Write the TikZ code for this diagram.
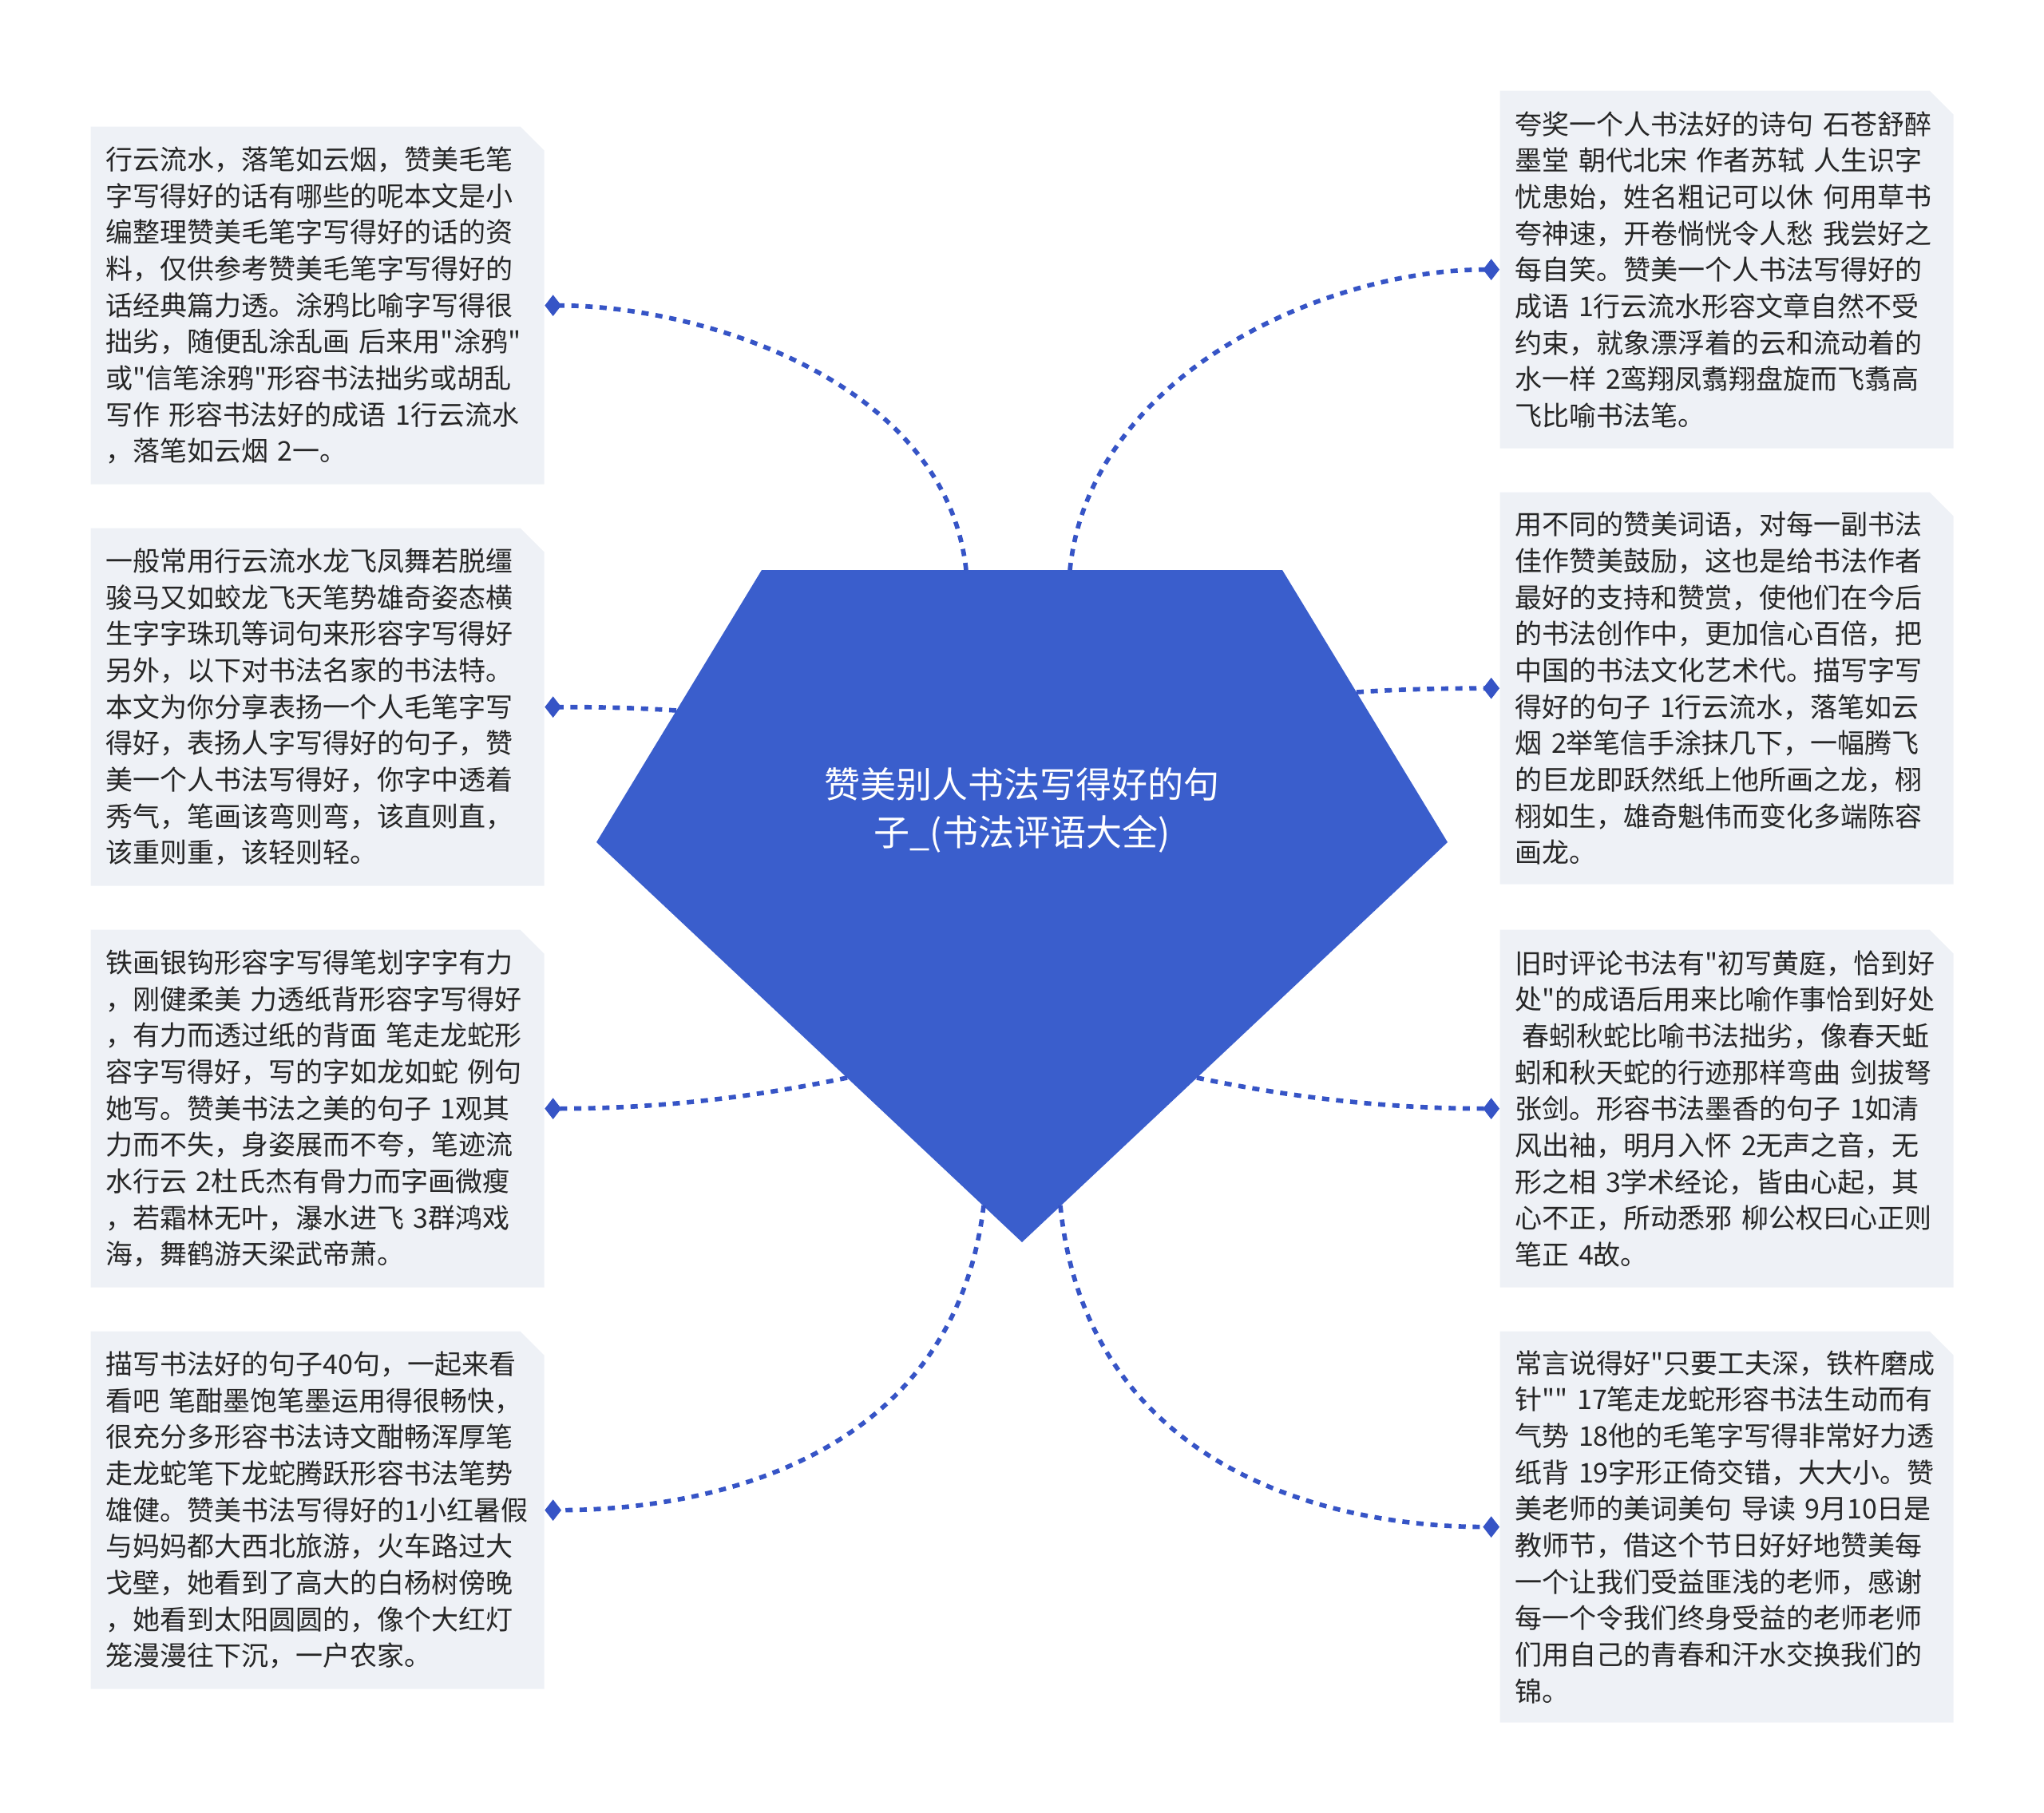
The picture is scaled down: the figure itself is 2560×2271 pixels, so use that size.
\documentclass[tikz,border=0pt]{standalone}
\usepackage{fontspec}
\setmainfont{Noto Sans CJK SC}[Ligatures=TeXOff]
\usetikzlibrary{shapes.misc,arrows.meta}
\definecolor{hubblue}{HTML}{3A5ECC}
\definecolor{linkblue}{HTML}{3654C6}
\definecolor{leaffill}{HTML}{EEF1F6}
\definecolor{leaftext}{HTML}{262626}

\begin{document}
\begin{tikzpicture}[
    x=0.3pt, y=-0.3pt,
    leaf/.style={chamfered rectangle, chamfered rectangle corners=north east,
        chamfered rectangle xsep=4.5pt, chamfered rectangle ysep=4.5pt,
        fill=leaffill, text=leaftext, font=\fontsize{10.2pt}{13.7pt}\selectfont,
        text width=159pt, align=left, inner xsep=1.2pt, inner ysep=0pt,
        minimum height=134.4pt, anchor=north west},
    hubtext/.style={text=white, align=center, font=\fontsize{13.5pt}{18pt}\selectfont},
    link/.style={linkblue, line width=1.7pt, dash pattern=on 2.7pt off 2.6pt,
        -{Diamond[length=6.2pt,width=8pt]}}
]
\useasboundingbox (0,0) rectangle (2560,2271);

% Hub
\coordinate (hubNW) at (954,714);
\coordinate (hubNE) at (1606,714);
\coordinate (hubE) at (1813,1055);
\coordinate (hubS) at (1280,1556);
\coordinate (hubW) at (747,1055);
\fill[hubblue] (hubNW) -- (hubNE) -- (hubE) -- (hubS) -- (hubW) -- cycle;
\node[hubtext] (hub) at (1280,1015) {赞美别人书法写得好的句\\子\_(书法评语大全)};

% Left leaves
\node[leaf] (l1) at (113,158) {行云流水，落笔如云烟，赞美毛笔\\字写得好的话有哪些的呢本文是小\\编整理赞美毛笔字写得好的话的资\\料，仅供参考赞美毛笔字写得好的\\话经典篇力透。涂鸦比喻字写得很\\拙劣，随便乱涂乱画~后来用"涂鸦"\\或"信笔涂鸦"形容书法拙劣或胡乱\\写作~形容书法好的成语~1行云流水\\，落笔如云烟~2一。};
\node[leaf] (l2) at (113,661) {一般常用行云流水龙飞凤舞若脱缰\\骏马又如蛟龙飞天笔势雄奇姿态横\\生字字珠玑等词句来形容字写得好\\另外，以下对书法名家的书法特。\\本文为你分享表扬一个人毛笔字写\\得好，表扬人字写得好的句子，赞\\美一个人书法写得好，你字中透着\\秀气，笔画该弯则弯，该直则直，\\该重则重，该轻则轻。};
\node[leaf] (l3) at (113,1164) {铁画银钩形容字写得笔划字字有力\\，刚健柔美~力透纸背形容字写得好\\，有力而透过纸的背面~笔走龙蛇形\\容字写得好，写的字如龙如蛇~例句\\她写。赞美书法之美的句子~1观其\\力而不失，身姿展而不夸，笔迹流\\水行云~2杜氏杰有骨力而字画微瘦\\，若霜林无叶，瀑水进飞~3群鸿戏\\海，舞鹤游天梁武帝萧。};
\node[leaf] (l4) at (113,1667) {描写书法好的句子40句，一起来看\\看吧~笔酣墨饱笔墨运用得很畅快，\\很充分多形容书法诗文酣畅浑厚笔\\走龙蛇笔下龙蛇腾跃形容书法笔势\\雄健。赞美书法写得好的1小红暑假\\与妈妈都大西北旅游，火车路过大\\戈壁，她看到了高大的白杨树傍晚\\，她看到太阳圆圆的，像个大红灯\\笼漫漫往下沉，一户农家。};

% Right leaves
\node[leaf] (r1) at (1878,113) {夸奖一个人书法好的诗句~石苍舒醉\\墨堂~朝代北宋~作者苏轼~人生识字\\忧患始，姓名粗记可以休~何用草书\\夸神速，开卷惝恍令人愁~我尝好之\\每自笑。赞美一个人书法写得好的\\成语~1行云流水形容文章自然不受\\约束，就象漂浮着的云和流动着的\\水一样~2鸾翔凤翥翔盘旋而飞翥高\\飞比喻书法笔。};
\node[leaf, minimum height=147.3pt] (r2) at (1878,616) {用不同的赞美词语，对每一副书法\\佳作赞美鼓励，这也是给书法作者\\最好的支持和赞赏，使他们在今后\\的书法创作中，更加信心百倍，把\\中国的书法文化艺术代。描写字写\\得好的句子~1行云流水，落笔如云\\烟~2举笔信手涂抹几下，一幅腾飞\\的巨龙即跃然纸上他所画之龙，栩\\栩如生，雄奇魁伟而变化多端陈容\\画龙。};
\node[leaf] (r3) at (1878,1164) {旧时评论书法有"初写黄庭，恰到好\\处"的成语后用来比喻作事恰到好处\\\hspace*{.25em}春蚓秋蛇比喻书法拙劣，像春天蚯\\蚓和秋天蛇的行迹那样弯曲~剑拔弩\\张剑。形容书法墨香的句子~1如清\\风出袖，明月入怀~2无声之音，无\\形之相~3学术经论，皆由心起，其\\心不正，所动悉邪~柳公权曰心正则\\笔正~4故。};
\node[leaf, minimum height=147pt] (r4) at (1878,1667) {常言说得好"只要工夫深，铁杵磨成\\针""~17笔走龙蛇形容书法生动而有\\气势~18他的毛笔字写得非常好力透\\纸背~19字形正倚交错，大大小。赞\\美老师的美词美句~导读~9月10日是\\教师节，借这个节日好好地赞美每\\一个让我们受益匪浅的老师，感谢\\每一个令我们终身受益的老师老师\\们用自己的青春和汗水交换我们的\\锦。};

% Link starts on the hub border
\coordinate (sl1) at (1210,714);
\coordinate (sr1) at (1340,714);
\coordinate (sl2) at (847,890);
\coordinate (sr2) at (1699,867);
\coordinate (sl3) at (1061,1350);
\coordinate (sr3) at (1499,1350);
\coordinate (sl4) at (1232,1510);
\coordinate (sr4) at (1328,1510);

% Links
\draw[link] (sl1) .. controls +(-25,-234) and +(200,0) .. (l1.east);
\draw[link] (sl2) .. controls +(-60,-4) and +(60,0) .. (l2.east);
\draw[link] (sl3) .. controls +(-120,25) and +(140,0) .. (l3.east);
\draw[link] (sl4) .. controls +(-37,310) and +(220,0) .. (l4.east);
\draw[link] (sr1) .. controls +(25,-244) and +(-220,0) .. (r1.west);
\draw[link] (sr2) .. controls +(60,-4) and +(-60,0) .. (r2.west);
\draw[link] (sr3) .. controls +(120,25) and +(-140,0) .. (r3.west);
\draw[link] (sr4) .. controls +(32,320) and +(-228,0) .. (r4.west);

\end{tikzpicture}
\end{document}
